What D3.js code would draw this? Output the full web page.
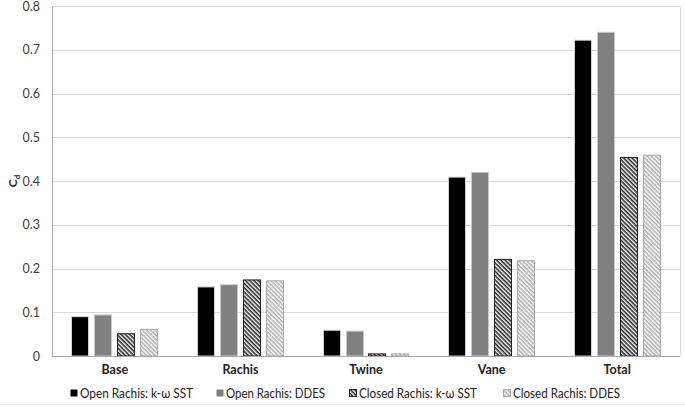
<!DOCTYPE html>
<html><head><meta charset="utf-8">
<script src="https://cdn.jsdelivr.net/npm/d3@7"></script>
<style>body{margin:0;background:#fff}svg{display:block;font-family:Lato,"Open Sans",sans-serif}</style>
</head><body><svg id="c" width="685" height="408"></svg>
<script>
const categories = ["Base","Rachis","Twine","Vane","Total"];
const seriesNames = ["Open Rachis: k-\u03c9 SST","Open Rachis: DDES","Closed Rachis: k-\u03c9 SST","Closed Rachis: DDES"];
const openSST   = [0.091,0.159,0.060,0.410,0.723];
const openDDES  = [0.095,0.164,0.058,0.421,0.741];
const closedSST = [0.052,0.175,0.006,0.222,0.455];
const closedDDES= [0.062,0.173,0.006,0.219,0.460];
const yTicks = [0,0.1,0.2,0.3,0.4,0.5,0.6,0.7,0.8];
const seriesValues = [openSST, openDDES, closedSST, closedDDES];

const svg = d3.select("#c");
const defs = svg.append("defs");
function hatch(id, stripe){
  const p = defs.append("pattern").attr("id",id).attr("patternUnits","userSpaceOnUse")
    .attr("width",3).attr("height",3).attr("patternTransform","rotate(45)");
  p.append("rect").attr("width",3).attr("height",3).attr("fill","#fff");
  p.append("rect").attr("width",3).attr("height",1.6).attr("fill",stripe);
}
hatch("hDark","#2a2a2a");
hatch("hLight","#b0b0b0");
const fills = ["#000","#808080","url(#hDark)","url(#hLight)"];
const strokes = ["#d0d0d0","#c8c8c8","#222","#a8a8a8"];

const m = {l:52, r:680, t:6, b:356};
const x = d3.scaleBand().domain(categories).range([m.l,m.r]);
const xs = d3.scaleBand().domain(d3.range(4)).range([0,x.bandwidth()]).paddingInner(0.217).paddingOuter(0.84);
const y = d3.scaleLinear().domain([0,0.8]).range([m.b,m.t]);

// grid
svg.append("g").selectAll("line").data(yTicks.slice(1)).join("line")
  .attr("x1",m.l).attr("x2",m.r).attr("y1",d=>Math.round(y(d))+0.5).attr("y2",d=>Math.round(y(d))+0.5)
  .attr("stroke","#d9d9d9").attr("stroke-width",1);
svg.append("line").attr("x1",m.r+0.5).attr("x2",m.r+0.5).attr("y1",m.t).attr("y2",m.b).attr("stroke","#d9d9d9");

// y axis
const ya = d3.axisLeft(y).tickValues(yTicks).tickFormat(d=>d===0?"0":d3.format(".1f")(d)).tickSize(0).tickPadding(12);
const yg = svg.append("g").attr("transform",`translate(${m.l},0)`).call(ya);
yg.select(".domain").attr("stroke","#a6a6a6");
yg.selectAll("text").attr("font-size",12.5).attr("fill","#404040").attr("font-family","Lato");

// bars
categories.forEach((c,i)=>{
  seriesValues.forEach((vals,s)=>{
    const v = vals[i];
    svg.append("rect")
      .attr("x",Math.round(x(c)+xs(s))+0.5).attr("y",y(v)+0.5)
      .attr("width",Math.round(xs.bandwidth())-1).attr("height",Math.max(0,y(0)-y(v)-0.5))
      .attr("fill",fills[s]).attr("stroke",strokes[s]).attr("stroke-width",1);
  });
});

// x axis
svg.append("line").attr("x1",m.l).attr("x2",m.r).attr("y1",m.b+0.5).attr("y2",m.b+0.5).attr("stroke","#a6a6a6");
const xa = d3.axisBottom(x).tickSize(0).tickPadding(9);
const xg = svg.append("g").attr("transform",`translate(0,${m.b})`).call(xa);
xg.select(".domain").remove();
xg.selectAll("text").attr("font-size",12.5).attr("font-weight","bold").attr("fill","#222").attr("font-family","Lato");

// y label
const yl = svg.append("text").attr("transform","translate(17,181) rotate(-90)")
  .attr("text-anchor","middle").attr("font-size",12).attr("font-weight","bold").attr("fill","#222");
yl.append("tspan").text("C");
yl.append("tspan").attr("font-size",8).attr("dy",3).text("d");

// legend
const legX = [70,216,349,503];
const legW = [113,99,118,107];
const lg = svg.append("g");
seriesNames.forEach((n,s)=>{
  lg.append("rect").attr("x",legX[s]+0.5).attr("y",389.5).attr("width",7).attr("height",7)
    .attr("fill",fills[s]).attr("stroke",s>=2?strokes[s]:"none");
  lg.append("text").attr("x",legX[s]+10).attr("y",397.5).attr("font-size",12.5).attr("fill","#222")
    .attr("textLength",legW[s]).attr("lengthAdjust","spacingAndGlyphs").text(n);
});
svg.append("line").attr("x1",0).attr("x2",685).attr("y1",404.5).attr("y2",404.5).attr("stroke","#ececec");
</script></body></html>
